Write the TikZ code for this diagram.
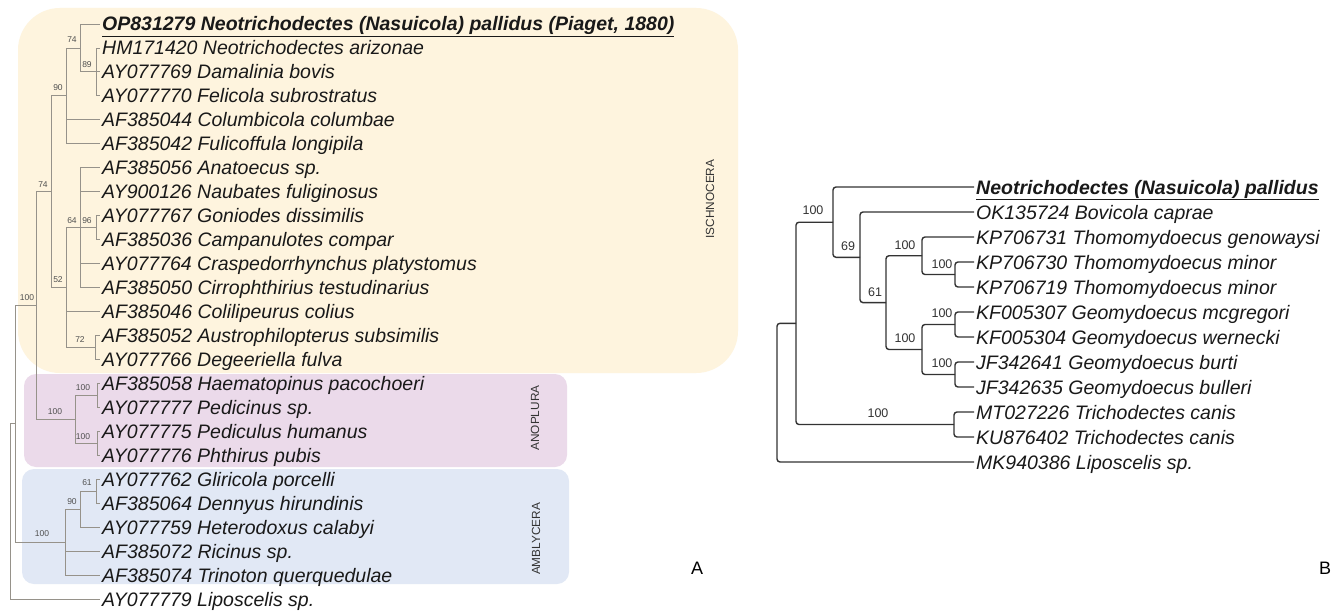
\documentclass[tikz,border=0pt]{standalone}
\usepackage{fontspec}
\setmainfont{Liberation Sans}
\definecolor{ischno}{RGB}{254,244,222}
\definecolor{anop}{RGB}{235,218,234}
\definecolor{ambly}{RGB}{225,232,245}
\definecolor{ltree}{RGB}{150,146,138}
\definecolor{lbl}{RGB}{80,80,80}
\tikzset{
 leaf/.style={anchor=west, inner xsep=2pt, inner ysep=0pt, text height=14pt, text depth=0pt, font=\fontsize{19.5}{22}\selectfont\itshape, text=black!90},
 bs/.style={font=\fontsize{8.5}{10}\selectfont, text=lbl, inner sep=0pt},
 rbs/.style={font=\fontsize{12.5}{14}\selectfont, text=black!80, inner sep=0pt},
 ledge/.style={draw=ltree, line width=0.9pt},
 redge/.style={draw=black!80, line width=1.4pt, rounded corners=3pt},
 grp/.style={rotate=90, font=\fontsize{11.8}{13}\selectfont, text=black!80, inner sep=0pt},
 panel/.style={font=\fontsize{18}{20}\selectfont, inner sep=0pt, text=black}
}
\begin{document}
\begin{tikzpicture}[x=1pt,y=-1pt]
\useasboundingbox (0,0) rectangle (1341,615);
\fill[white] (0,0) rectangle (1341,615);
% group backgrounds
\fill[ischno, rounded corners=42pt] (18,8) rectangle (738,373);
\fill[anop, rounded corners=12pt] (24,374) rectangle (567,467);
\fill[ambly, rounded corners=12pt] (22,469) rectangle (569,584);
\node[grp] (gI) at (710,199) {ISCHNOCERA};
\node[grp] (gAn) at (535,418) {ANOPLURA};
\node[grp] (gAm) at (536,539) {AMBLYCERA};
\node[panel] (pA) at (697,568) {A};
\node[panel] (pB) at (1325,568) {B};

% ---------- left tree leaves ----------
\node[leaf] (L1) at (100,24.0) {\textbf{\underline{OP831279 Neotrichodectes (Nasuicola) pallidus (Piaget, 1880)}}};
\node[leaf] (L2) at (100,47.96) {HM171420 Neotrichodectes arizonae};
\node[leaf] (L3) at (100,71.92) {AY077769 Damalinia bovis};
\node[leaf] (L4) at (100,95.88) {AY077770 Felicola subrostratus};
\node[leaf] (L5) at (100,119.84) {AF385044 Columbicola columbae};
\node[leaf] (L6) at (100,143.8) {AF385042 Fulicoffula longipila};
\node[leaf] (L7) at (100,167.76) {AF385056 Anatoecus sp.};
\node[leaf] (L8) at (100,191.72) {AY900126 Naubates fuliginosus};
\node[leaf] (L9) at (100,215.68) {AY077767 Goniodes dissimilis};
\node[leaf] (L10) at (100,239.64) {AF385036 Campanulotes compar};
\node[leaf] (L11) at (100,263.6) {AY077764 Craspedorrhynchus platystomus};
\node[leaf] (L12) at (100,287.56) {AF385050 Cirrophthirius testudinarius};
\node[leaf] (L13) at (100,311.52) {AF385046 Colilipeurus colius};
\node[leaf] (L14) at (100,335.48) {AF385052 Austrophilopterus subsimilis};
\node[leaf] (L15) at (100,359.44) {AY077766 Degeeriella fulva};
\node[leaf] (L16) at (100,383.4) {AF385058 Haematopinus pacochoeri};
\node[leaf] (L17) at (100,407.36) {AY077777 Pedicinus sp.};
\node[leaf] (L18) at (100,431.32) {AY077775 Pediculus humanus};
\node[leaf] (L19) at (100,455.28) {AY077776 Phthirus pubis};
\node[leaf] (L20) at (100,479.24) {AY077762 Gliricola porcelli};
\node[leaf] (L21) at (100,503.2) {AF385064 Dennyus hirundinis};
\node[leaf] (L22) at (100,527.16) {AY077759 Heterodoxus calabyi};
\node[leaf] (L23) at (100,551.12) {AF385072 Ricinus sp.};
\node[leaf] (L24) at (100,575.08) {AF385074 Trinoton querquedulae};
\node[leaf] (L25) at (100,599.04) {AY077779 Liposcelis sp.};

% ---------- left tree internal nodes ----------
\coordinate (n89) at (96,71.92);
\coordinate (n74a) at (80,47.96);
\coordinate (n90) at (66,95.88);
\coordinate (n96) at (96,227.66);
\coordinate (n64) at (80,227.66);
\coordinate (n72) at (95,347.46);
\coordinate (n52) at (66,287.56);
\coordinate (n74b) at (51,191.72);
\coordinate (nA1) at (97,395.38);
\coordinate (nA2) at (97,443.3);
\coordinate (nAno) at (75,419.34);
\coordinate (n100a) at (36,305.53);
\coordinate (n61) at (96,491.22);
\coordinate (n90b) at (80,509.19);
\coordinate (nAmb) at (65,542.13);
\coordinate (n15) at (15,423.83);
\coordinate (nroot) at (10,511.4);

\draw[ledge] (n89) |- (L2.west) (n89) |- (L3.west) (n89) |- (L4.west);
\draw[ledge] (n74a) |- (L1.west) (n74a) |- (n89);
\draw[ledge] (n90) |- (n74a) (n90) |- (L5.west) (n90) |- (L6.west);
\draw[ledge] (n96) |- (L9.west) (n96) |- (L10.west);
\draw[ledge] (n64) |- (L7.west) (n64) |- (L8.west) (n64) -- (n96) (n64) |- (L11.west) (n64) |- (L12.west);
\draw[ledge] (n72) |- (L14.west) (n72) |- (L15.west);
\draw[ledge] (n52) |- (n64) (n52) |- (L13.west) (n52) |- (n72);
\draw[ledge] (n74b) |- (n90) (n74b) |- (n52);
\draw[ledge] (nA1) |- (L16.west) (nA1) |- (L17.west);
\draw[ledge] (nA2) |- (L18.west) (nA2) |- (L19.west);
\draw[ledge] (nAno) |- (nA1) (nAno) |- (nA2);
\draw[ledge] (n100a) |- (n74b) (n100a) |- (nAno);
\draw[ledge] (n61) |- (L20.west) (n61) |- (L21.west);
\draw[ledge] (n90b) |- (n61) (n90b) |- (L22.west);
\draw[ledge] (nAmb) |- (n90b) (nAmb) |- (L23.west) (nAmb) |- (L24.west);
\draw[ledge] (n15) |- (n100a) (n15) |- (nAmb);
\draw[ledge] (nroot) |- (n15) (nroot) |- (L25.west);

% left support values
\node[bs] (b1) at (72,40) {74};
\node[bs] (b2) at (87,65) {89};
\node[bs] (b3) at (58,88) {90};
\node[bs] (b4) at (43,185) {74};
\node[bs] (b5) at (72,221) {64};
\node[bs] (b6) at (87,221) {96};
\node[bs] (b7) at (58,280) {52};
\node[bs] (b8) at (80,340) {72};
\node[bs] (b9) at (27,298) {100};
\node[bs] (b10) at (83,388) {100};
\node[bs] (b11) at (55,412) {100};
\node[bs] (b12) at (83,437) {100};
\node[bs] (b13) at (87,483) {61};
\node[bs] (b14) at (72,502) {90};
\node[bs] (b15) at (42,534) {100};

% ---------- right tree ----------
\node[leaf] (R1) at (974,187) {\textbf{\underline{Neotrichodectes (Nasuicola) pallidus}}};
\node[leaf] (R2) at (974,212) {OK135724 Bovicola caprae};
\node[leaf] (R3) at (974,237) {KP706731 Thomomydoecus genowaysi};
\node[leaf] (R4) at (974,262) {KP706730 Thomomydoecus minor};
\node[leaf] (R5) at (974,287) {KP706719 Thomomydoecus minor};
\node[leaf] (R6) at (974,312) {KF005307 Geomydoecus mcgregori};
\node[leaf] (R7) at (974,337) {KF005304 Geomydoecus wernecki};
\node[leaf] (R8) at (974,362) {JF342641 Geomydoecus burti};
\node[leaf] (R9) at (974,387) {JF342635 Geomydoecus bulleri};
\node[leaf] (R10) at (974,412) {MT027226 Trichodectes canis};
\node[leaf] (R11) at (974,437) {KU876402 Trichodectes canis};
\node[leaf] (R12) at (974,462) {MK940386 Liposcelis sp.};

\coordinate (r45) at (955,274.5);
\coordinate (rT) at (922,255.75);
\coordinate (rKF) at (955,324.5);
\coordinate (rJF) at (955,374.5);
\coordinate (rG) at (922,349.5);
\coordinate (r61) at (886,302.6);
\coordinate (r69) at (860,257.3);
\coordinate (rB) at (833,222.2);
\coordinate (rTri) at (954,424.5);
\coordinate (rA) at (796,323.3);
\coordinate (rRoot) at (777,392.7);

\draw[redge] (r45) |- (R4.west) (r45) |- (R5.west);
\draw[redge] (rT) |- (R3.west) (rT) |- (r45);
\draw[redge] (rKF) |- (R6.west) (rKF) |- (R7.west);
\draw[redge] (rJF) |- (R8.west) (rJF) |- (R9.west);
\draw[redge] (rG) |- (rKF) (rG) |- (rJF);
\draw[redge] (r61) |- (rT) (r61) |- (rG);
\draw[redge] (r69) |- (R2.west) (r69) |- (r61);
\draw[redge] (rB) |- (R1.west) (rB) |- (r69);
\draw[redge] (rTri) |- (R10.west) (rTri) |- (R11.west);
\draw[redge] (rA) |- (rB) (rA) |- (rTri);
\draw[redge] (rRoot) |- (rA) (rRoot) |- (R12.west);

\node[rbs] (s1) at (813,210) {100};
\node[rbs] (s2) at (848,246) {69};
\node[rbs] (s3) at (875,292) {61};
\node[rbs] (s4) at (905,245) {100};
\node[rbs] (s5) at (942,264) {100};
\node[rbs] (s6) at (905,338) {100};
\node[rbs] (s7) at (942,313) {100};
\node[rbs] (s8) at (942,363) {100};
\node[rbs] (s9) at (878,413) {100};
\end{tikzpicture}
\end{document}
